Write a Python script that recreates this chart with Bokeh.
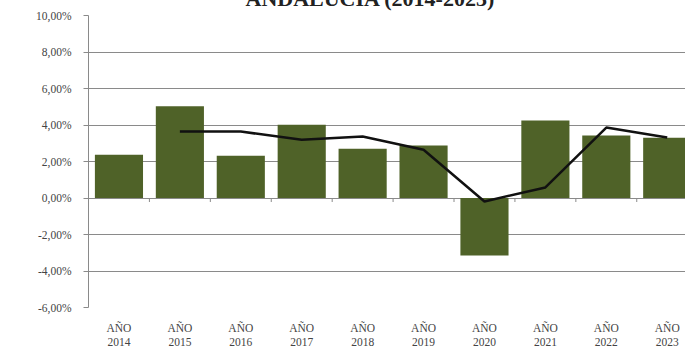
from bokeh.plotting import figure
from bokeh.models import Range1d, FixedTicker
from bokeh.embed import file_html
from bokeh.resources import INLINE

years = ["2014", "2015", "2016", "2017", "2018", "2019", "2020", "2021", "2022", "2023"]
bar_values = [2.37, 5.03, 2.31, 4.01, 2.70, 2.88, -3.15, 4.25, 3.42, 3.30]
line_years = ["2015", "2016", "2017", "2018", "2019", "2020", "2021", "2022", "2023"]
line_values = [3.64, 3.64, 3.19, 3.37, 2.64, -0.19, 0.58, 3.86, 3.31]
y_ticks = [-6, -4, -2, 0, 2, 4, 6, 8, 10]
y_tick_labels = ["-6,00%", "-4,00%", "-2,00%", "0,00%", "2,00%", "4,00%", "6,00%", "8,00%", "10,00%"]
x_tick_labels = ["AÑO\n" + y for y in years]
title_text = "ANDALUCÍA (2014-2023)"

FONT = "Liberation Serif"
SHIFT = 30
H = 362 + SHIFT

xs = list(range(len(years)))
line_xs = [years.index(y) for y in line_years]

p = figure(width=685, height=H, output_backend="svg", toolbar_location=None,
           title=title_text,
           x_range=Range1d(-0.5, 9.3), y_range=Range1d(-6, 10),
           min_border_left=88, min_border_right=0, min_border_top=15 + SHIFT, min_border_bottom=55)
p.styles = {"margin-top": f"-{SHIFT}px"}
p.outline_line_color = None
p.background_fill_color = "white"

p.title.text_font = FONT
p.title.text_font_size = "22px"
p.title.text_font_style = "bold"
p.title.text_color = "#222222"
p.title.align = "left"
p.title.offset = 157
p.title.standoff = 9

p.xgrid.grid_line_color = None
p.ygrid.grid_line_color = "#8a8a8a"
p.ygrid.grid_line_width = 1
p.ygrid.ticker = FixedTicker(ticks=y_ticks)

p.vbar(x=xs, top=bar_values, bottom=0, width=0.79, fill_color="#4F6228", line_color=None)
p.line(x=line_xs, y=line_values, line_color="#111111", line_width=2.5)

# category tick marks on the zero line (between categories)
mids = [i + 0.5 for i in xs[:-1]]
p.segment(x0=mids, y0=[0] * len(mids), x1=mids, y1=[-0.22] * len(mids), line_color="#8a8a8a", line_width=1)

p.yaxis.ticker = FixedTicker(ticks=y_ticks)
p.yaxis.major_label_overrides = {t: l for t, l in zip(y_ticks, y_tick_labels)}
p.yaxis.axis_line_color = "#8a8a8a"
p.yaxis.major_tick_line_color = "#8a8a8a"
p.yaxis.major_tick_out = 5
p.yaxis.major_tick_in = 0
p.yaxis.minor_tick_line_color = None
p.yaxis.major_label_text_font = FONT
p.yaxis.major_label_text_font_size = "11.5px"
p.yaxis.major_label_text_color = "#444444"
p.yaxis.major_label_standoff = 12

p.xaxis.ticker = FixedTicker(ticks=xs)
p.xaxis.major_label_overrides = {i: l for i, l in zip(xs, x_tick_labels)}
p.xaxis.axis_line_color = None
p.xaxis.major_tick_line_color = None
p.xaxis.minor_tick_line_color = None
p.xaxis.major_label_text_font = FONT
p.xaxis.major_label_text_font_size = "11.5px"
p.xaxis.major_label_text_color = "#444444"
p.xaxis.major_label_standoff = 8

open("out.html", "w").write(file_html(p, INLINE))
